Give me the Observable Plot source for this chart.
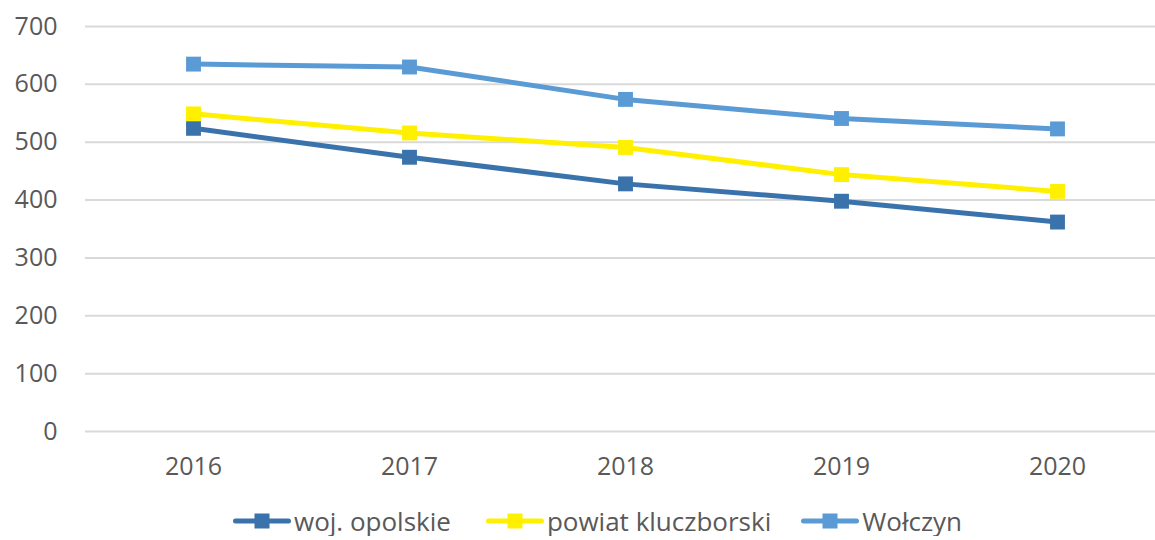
<!DOCTYPE html>
<html><head><meta charset="utf-8">
<script src="https://cdn.jsdelivr.net/npm/d3@7"></script>
<script src="https://cdn.jsdelivr.net/npm/@observablehq/plot@0.6"></script>
<style>
body{margin:0;background:#fff;font-family:"Open Sans",sans-serif;overflow:hidden;}
#chart svg{display:block;}
#legend{display:flex;align-items:center;height:30px;line-height:30px;padding-left:233px;font-size:26px;color:#595959;white-space:nowrap;}
#legend .item{display:flex;align-items:center;height:30px;}
#legend svg{display:block;margin-right:3px;}
</style></head><body><div id="chart"></div><div id="legend"></div><script>
const years = ["2016","2017","2018","2019","2020"];
const seriesNames = ["woj. opolskie","powiat kluczborski","Wołczyn"];
const wojOpolskie = [524,474,428,398,362];
const powiatKluczborski = [549,516,491,444,415];
const wolczyn = [635,630,574,541,523];
const yTicks = [0,100,200,300,400,500,600,700];
const colors = ["#3A73AB","#FFF000","#5B9BD5"];
const legendGaps = [35, 30, 0];

const seriesValues = [wojOpolskie, powiatKluczborski, wolczyn];
const data = seriesNames.flatMap((s,i)=>years.map((y,j)=>({series:s, year:y, value:seriesValues[i][j]})));

const W = 1155, H = 506;
const chart = Plot.plot({
  width: W, height: H,
  marginLeft: 85, marginRight: 0, marginTop: 26, marginBottom: 75,
  style: {fontFamily: '"Open Sans", sans-serif', fontSize: "25px", color: "#595959", background: "#fff"},
  x: {type: "point", domain: years, range: [85, 1165], padding: 0.5, label: null},
  y: {domain: [0, 700], ticks: yTicks, label: null},
  color: {domain: seriesNames, range: colors},
  marks: [
    Plot.ruleY(yTicks, {stroke: "#d9d9d9", strokeWidth: 2, strokeOpacity: 1}),
    Plot.axisY({ticks: yTicks, tickSize: 0, tickPadding: 28, fontSize: 25, fill: "#595959"}),
    Plot.axisX({tickSize: 0, tickPadding: 26, fontSize: 25, fill: "#595959"}),
    Plot.line(data, {x: "year", y: "value", z: "series", stroke: "series", strokeWidth: 5, strokeLinejoin: "round", strokeLinecap: "round"}),
    Plot.dot(data, {x: "year", y: "value", fill: "series", symbol: "square", r: 8.4, stroke: null})
  ]
});
document.getElementById("chart").appendChild(chart);

const legend = d3.select("#legend");
seriesNames.forEach((s,i)=>{
  const item = legend.append("div").attr("class","item").style("margin-right", legendGaps[i] + "px");
  const svg = item.append("svg").attr("width",58).attr("height",20);
  svg.append("line").attr("x1",2.5).attr("x2",55.5).attr("y1",10).attr("y2",10).attr("stroke",colors[i]).attr("stroke-width",5).attr("stroke-linecap","round");
  svg.append("rect").attr("x",21.5).attr("y",2.5).attr("width",15).attr("height",15).attr("fill",colors[i]);
  item.append("span").text(s);
});
</script></body></html>
